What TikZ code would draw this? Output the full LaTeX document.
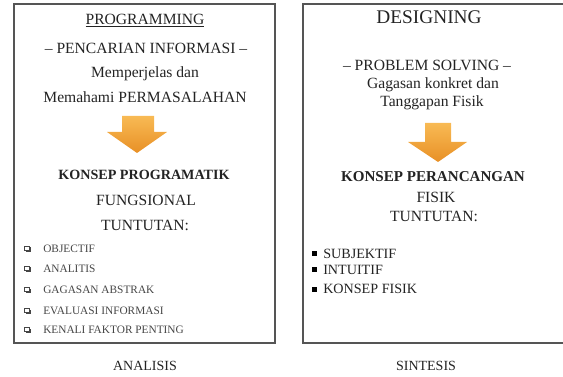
\documentclass[tikz,border=0pt]{standalone}
\usepackage{fontspec}
\setmainfont{Liberation Serif}
\usepackage{tikz}

\definecolor{panelgray}{RGB}{85,85,85}
\definecolor{txtdark}{RGB}{35,35,35}
\definecolor{txtgray}{RGB}{70,70,70}
\definecolor{arrowlight}{RGB}{248,186,84}
\definecolor{arrowdark}{RGB}{232,144,38}

\tikzset{
  panel/.style={draw=panelgray, line width=1.1pt},
  txt/.style={inner sep=0.75pt, text depth=0pt, text=txtdark},
  head/.style={txt, font=\fontsize{11.7}{13.5}\selectfont},
  bighead/.style={txt, font=\fontsize{14.5}{17}\selectfont},
  boldhead/.style={txt, font=\fontsize{10.6}{12}\selectfont\bfseries},
  smallitem/.style={txt, anchor=west, text=txtgray, font=\fontsize{8.5}{10}\selectfont},
  bigitem/.style={txt, anchor=west, font=\fontsize{10.6}{12}\selectfont},
  downarrow/.style={top color=arrowlight, bottom color=arrowdark, draw=none}
}

\begin{document}
\begin{tikzpicture}[x=0.75pt,y=0.75pt,yscale=-1,xscale=1]
\useasboundingbox (0,0) rectangle (563,377);

%Shape: Rectangle [left panel]
\draw[panel] (14,4) rectangle (275,343);
%Shape: Rectangle [right panel]
\draw[panel] (303,4) rectangle (570,343);

%Shape: Down Arrow [left]
\shade[downarrow] (122,116) -- (154,116) -- (154,132) -- (167,132) -- (137,153) -- (107,132) -- (122,132) -- cycle;
%Shape: Down Arrow [right]
\shade[downarrow] (425,123) -- (451,123) -- (451,142) -- (467,142) -- (438,162) -- (408,142) -- (425,142) -- cycle;

% Text Node
\node[head] (prog) at (145,19) {\underline{PROGRAMMING}};
% Text Node
\node[head] (cari) at (146,48) {– PENCARIAN INFORMASI –};
% Text Node
\node[head] (jelas) at (145,72) {Memperjelas dan};
% Text Node
\node[head] (paham) at (145,97) {Memahami PERMASALAHAN};
% Text Node
\node[boldhead] (kprog) at (144,175) {KONSEP PROGRAMATIK};
% Text Node
\node[head] (fungsi) at (146,200) {FUNGSIONAL};
% Text Node
\node[head] (tuntL) at (145,225) {TUNTUTAN:};

% Text Node
\node[smallitem] (objek) at (42,249) {OBJECTIF};
% Text Node
\node[smallitem] (anali) at (42,269) {ANALITIS};
% Text Node
\node[smallitem] (gagas) at (42,290) {GAGASAN ABSTRAK};
% Text Node
\node[smallitem] (evalu) at (42,311) {EVALUASI INFORMASI};
% Text Node
\node[smallitem] (kenal) at (42,330) {KENALI FAKTOR PENTING};

% Bullets [hollow, left]
\foreach \yb in {249,269,290,311,330}{
  \fill[txtgray] (26,\yb-1.5) rectangle (30.5,\yb+3);
  \filldraw[fill=white, draw=txtgray, line width=0.5pt] (24.5,\yb-2.5) rectangle (29,\yb+1.8);
}

% Text Node
\node[bighead] (design) at (429,17) {DESIGNING};
% Text Node
\node[head] (solve) at (427,65) {– PROBLEM SOLVING –};
% Text Node
\node[head] (konkr) at (433,83) {Gagasan konkret dan};
% Text Node
\node[head] (tangg) at (432,101) {Tanggapan Fisik};
% Text Node
\node[txt, font=\fontsize{11.3}{13}\selectfont\bfseries] (kranc) at (433,177) {KONSEP PERANCANGAN};
% Text Node
\node[head] (fisik) at (436,197) {FISIK};
% Text Node
\node[head] (tuntR) at (434,216) {TUNTUTAN:};

% Text Node
\node[bigitem] (subj) at (322,254) {SUBJEKTIF};
% Text Node
\node[bigitem] (intu) at (322,270) {INTUITIF};
% Text Node
\node[bigitem] (kfis) at (322,289) {KONSEP FISIK};

% Bullets [filled, right]
\foreach \yb in {254,270,289}{
  \fill[black] (311.5,\yb-2.5) rectangle (316.5,\yb+2.5);
}

% Text Node
\node[txt, font=\fontsize{10.5}{12}\selectfont] (anal) at (145,366) {ANALISIS};
% Text Node
\node[txt, font=\fontsize{10.5}{12}\selectfont] (sint) at (426,366) {SINTESIS};

\end{tikzpicture}
\end{document}
